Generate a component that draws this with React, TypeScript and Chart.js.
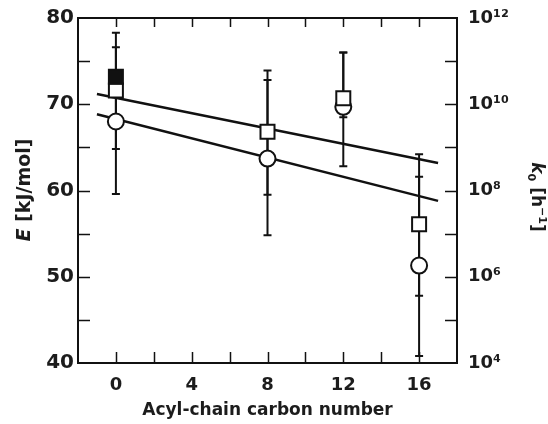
import React, { useEffect, useRef } from 'react';
import { Chart, registerables } from 'chart.js';

Chart.register(...registerables);

// ---- data ----
const carbonNumbers = [0, 8, 12, 16];
const squareValues = [71.6, 66.8, 70.7, 56.1];
const squareLow = [64.8, 59.5, 68.5, 47.8];
const squareHigh = [78.3, 73.9, 76.0, 64.2];
const circleValues = [68.0, 63.7, 69.7, 51.3];
const circleLow = [59.6, 54.8, 62.8, 40.8];
const circleHigh = [76.6, 72.8, 76.0, 61.6];
const filledX = [0];
const filledValues = [73.2];
const fitX = [-1, 17];
const squareFit = [71.2, 63.2];
const circleFit = [68.85, 58.8];

const xLabelTicks = [0, 4, 8, 12, 16];
const xMarkTicks = [0, 2, 4, 6, 8, 10, 12, 14, 16];
const eMarkTicks = [45, 50, 55, 60, 65, 70, 75];
const k0Exponents = [4, 6, 8, 10, 12];
const k0MarkExponents = [5, 6, 7, 8, 9, 10, 11];

const FONT = "'DejaVu Sans', Verdana, sans-serif";
const TEXT = '#1c1c1c';

const SUP: Record<string, string> = {
  '0': '\u2070', '1': '\u00b9', '2': '\u00b2', '3': '\u00b3', '4': '\u2074',
  '5': '\u2075', '6': '\u2076', '7': '\u2077', '8': '\u2078', '9': '\u2079',
};
const sup = (s: string) => s.split('').map((c) => SUP[c] || c).join('');

const decorPlugin = {
  id: 'decor',
  beforeDatasetsDraw(chart: any) {
    const { ctx } = chart;
    const x = chart.scales.x;
    const y = chart.scales.y;
    ctx.save();
    ctx.strokeStyle = '#111';
    ctx.lineWidth = 2;
    const drawBar = (cx: number, lo: number, hi: number) => {
      const px = x.getPixelForValue(cx);
      const pl = y.getPixelForValue(lo);
      const ph = y.getPixelForValue(hi);
      ctx.beginPath();
      ctx.moveTo(px, pl);
      ctx.lineTo(px, ph);
      ctx.moveTo(px - 4, pl);
      ctx.lineTo(px + 4, pl);
      ctx.moveTo(px - 4, ph);
      ctx.lineTo(px + 4, ph);
      ctx.stroke();
    };
    carbonNumbers.forEach((c, i) => {
      drawBar(c, squareLow[i], squareHigh[i]);
      drawBar(c, circleLow[i], circleHigh[i]);
    });
    ctx.restore();
  },
  afterDraw(chart: any) {
    const { ctx, chartArea } = chart;
    const x = chart.scales.x;
    const y = chart.scales.y;
    const y2 = chart.scales.y2;
    ctx.save();
    ctx.strokeStyle = '#111';
    ctx.lineWidth = 2;
    ctx.strokeRect(chartArea.left, chartArea.top, chartArea.right - chartArea.left, chartArea.bottom - chartArea.top);
    ctx.lineWidth = 1.5;
    ctx.beginPath();
    xMarkTicks.forEach((v) => {
      const px = Math.round(x.getPixelForValue(v)) + 0.5;
      ctx.moveTo(px, chartArea.bottom);
      ctx.lineTo(px, chartArea.bottom - 11);
      ctx.moveTo(px, chartArea.top);
      ctx.lineTo(px, chartArea.top + 9);
    });
    eMarkTicks.forEach((v) => {
      const py = Math.round(y.getPixelForValue(v)) + 0.5;
      ctx.moveTo(chartArea.left, py);
      ctx.lineTo(chartArea.left + 12, py);
    });
    k0MarkExponents.forEach((e) => {
      const py = Math.round(y2.getPixelForValue(Math.pow(10, e))) + 0.5;
      ctx.moveTo(chartArea.right, py);
      ctx.lineTo(chartArea.right - 12, py);
    });
    ctx.stroke();

    // vertical axis titles with mixed styles
    const drawSegments = (cx: number, cy: number, angle: number, segs: any[]) => {
      ctx.save();
      ctx.translate(cx, cy);
      ctx.rotate(angle);
      ctx.fillStyle = TEXT;
      ctx.textBaseline = 'alphabetic';
      ctx.textAlign = 'left';
      let total = 0;
      segs.forEach((s) => {
        ctx.font = s.font;
        total += ctx.measureText(s.text).width;
      });
      let pos = -total / 2;
      segs.forEach((s) => {
        ctx.font = s.font;
        ctx.fillText(s.text, pos, 6 + (s.dy || 0));
        pos += ctx.measureText(s.text).width;
      });
      ctx.restore();
    };
    drawSegments(24, 190, -Math.PI / 2, [
      { text: 'E', font: `italic bold 19px ${FONT}` },
      { text: ' [kJ/mol]', font: `bold 19px ${FONT}` },
    ]);
    drawSegments(538, 197, Math.PI / 2, [
      { text: 'k', font: `italic bold 17px ${FONT}` },
      { text: '0', font: `bold 11px ${FONT}`, dy: 4 },
      { text: ' [h', font: `bold 17px ${FONT}` },
      { text: '\u22121', font: `bold 11px ${FONT}`, dy: -7 },
      { text: ']', font: `bold 17px ${FONT}` },
    ]);
    ctx.restore();
  },
};

export default function App() {
  const ref = useRef<HTMLCanvasElement | null>(null);
  useEffect(() => {
    if (!ref.current) return;
    const pts = (xs: number[], ys: number[]) => xs.map((v, i) => ({ x: v, y: ys[i] }));
    const chart = new Chart(ref.current, {
      type: 'scatter',
      data: {
        datasets: [
          {
            label: 'filled',
            data: pts(filledX, filledValues),
            pointStyle: 'rect',
            pointRadius: 9.9,
            backgroundColor: '#111',
            borderColor: '#111',
            borderWidth: 2,
            showLine: false,
            order: 0,
          },
          {
            label: 'squares',
            data: pts(carbonNumbers, squareValues),
            pointStyle: 'rect',
            pointRadius: 9.9,
            backgroundColor: '#fff',
            borderColor: '#111',
            borderWidth: 2,
            showLine: false,
            order: 1,
          },
          {
            label: 'circles',
            data: pts(carbonNumbers, circleValues),
            pointStyle: 'circle',
            pointRadius: 8,
            backgroundColor: '#fff',
            borderColor: '#111',
            borderWidth: 2,
            showLine: false,
            order: 2,
          },
          {
            label: 'square fit',
            data: pts(fitX, squareFit),
            showLine: true,
            pointRadius: 0,
            borderColor: '#111',
            borderWidth: 2.5,
            order: 3,
          },
          {
            label: 'circle fit',
            data: pts(fitX, circleFit),
            showLine: true,
            pointRadius: 0,
            borderColor: '#111',
            borderWidth: 2.5,
            order: 4,
          },
        ],
      },
      options: {
        responsive: false,
        maintainAspectRatio: false,
        animation: false,
        layout: { padding: { top: 18, left: 0, right: 0, bottom: 0 } },
        plugins: { legend: { display: false }, tooltip: { enabled: false } },
        scales: {
          x: {
            type: 'linear',
            position: 'bottom',
            min: -2,
            max: 18,
            grid: { display: false, drawTicks: false },
            border: { display: false },
            ticks: {
              stepSize: 2,
              autoSkip: false,
              maxRotation: 0,
              padding: 12,
              color: TEXT,
              font: { family: FONT, size: 18, weight: 'bold' },
              callback: (v: any) => (xLabelTicks.includes(Number(v)) ? String(v) : ''),
            },
            title: {
              display: true,
              text: 'Acyl-chain carbon number',
              color: TEXT,
              font: { family: FONT, size: 17, weight: 'bold' },
              padding: { top: 0, bottom: 3 },
            },
            afterFit: (s: any) => {
              s.height = 61;
              s.paddingLeft = 0;
              s.paddingRight = 0;
            },
          },
          y: {
            position: 'left',
            min: 40,
            max: 80,
            grid: { display: false, drawTicks: false },
            border: { display: false },
            ticks: {
              stepSize: 10,
              autoSkip: false,
              padding: 4,
              color: TEXT,
              font: { family: FONT, size: 20, weight: 'bold' },
            },
            afterFit: (s: any) => {
              s.width = 78;
              s.paddingTop = 0;
              s.paddingBottom = 0;
            },
          },
          y2: {
            type: 'logarithmic',
            position: 'right',
            min: 1e4,
            max: 1e12,
            grid: { display: false, drawTicks: false },
            border: { display: false },
            afterBuildTicks: (s: any) => {
              s.ticks = k0Exponents.map((e) => ({ value: Math.pow(10, e) }));
            },
            ticks: {
              autoSkip: false,
              padding: 11,
              color: TEXT,
              font: { family: FONT, size: 18, weight: 'bold' },
              callback: (v: any) => '10' + sup(String(Math.round(Math.log10(Number(v))))),
            },
            afterFit: (s: any) => {
              s.width = 91;
              s.paddingTop = 0;
              s.paddingBottom = 0;
            },
          },
        },
      },
      plugins: [decorPlugin],
    });
    return () => chart.destroy();
  }, []);
  return (
    <div style={{ position: 'fixed', left: 0, top: 0, width: 548, height: 424, background: '#fff' }}>
      <canvas ref={ref} width={548} height={424} style={{ display: 'block' }} />
    </div>
  );
}
